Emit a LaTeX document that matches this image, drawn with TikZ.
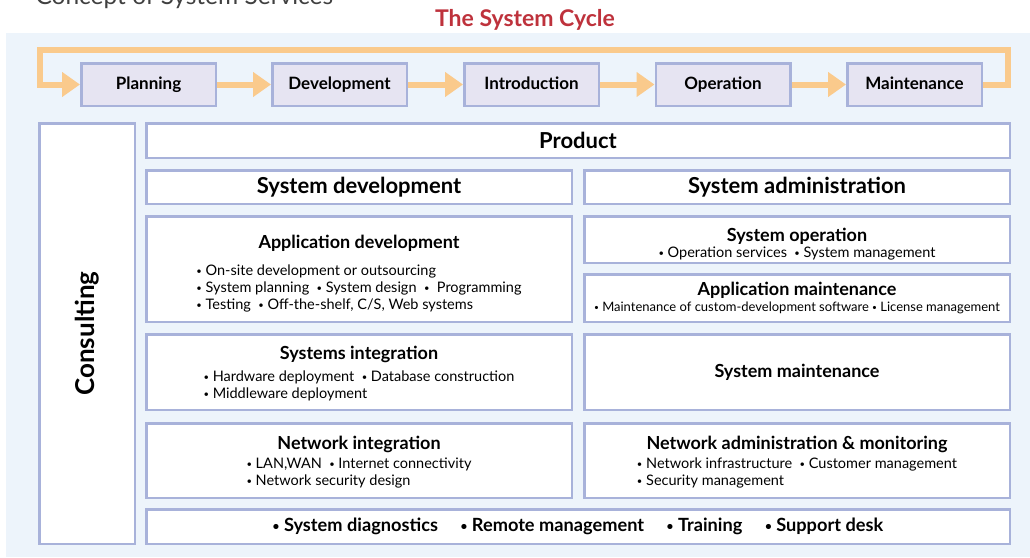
\documentclass[tikz,border=0pt]{standalone}
\usepackage{fontspec}
\setmainfont{Lato}
\usetikzlibrary{arrows.meta}
\definecolor{panelbg}{RGB}{237,244,251}
\definecolor{frame}{RGB}{168,178,218}
\definecolor{cycfill}{RGB}{230,228,242}
\definecolor{cycorange}{RGB}{250,202,140}
\definecolor{titlered}{RGB}{190,50,60}
\newcommand{\bul}{\raisebox{0.15ex}{\scalebox{0.65}{•}}\ }
\newcommand{\fsz}[2]{\fontsize{#1}{#2}\selectfont}
\newcommand{\tstrut}[1]{\rule{0pt}{#1}}

\begin{document}
\begin{tikzpicture}[x=1pt,y=-1pt,
    stage/.style={draw=frame,fill=cycfill,line width=2.5pt,minimum width=134.5pt,minimum height=42.5pt,
        text height=2.3ex,text depth=.3ex,font=\fsz{17}{20}\bfseries},
    cell/.style={draw=frame,fill=white,line width=2.5pt,inner sep=0pt,align=center},
    head/.style={cell,minimum height=33.5pt,font=\fsz{22}{25}\bfseries},
    cyc/.style={draw=cycorange,line width=6pt,-{Triangle[length=18pt,width=24pt]}}]
    \useasboundingbox (0,0) rectangle (1030,557);
    \fill[panelbg] (6,33) rectangle (1030,557);

    % heading
    \node[anchor=base west,text=black!75,font=\fsz{24.5}{28}] (concept) at (32,4) {Concept of System Services};
    \node[text=titlered,font=\fsz{23}{26}\bfseries] (cycle) at (525,20) {The System Cycle};

    % the cycle
    \node[stage] (plan) at (148.5,84.5) {Planning};
    \node[stage] (dev) at (339.5,84.5) {Development};
    \node[stage] (intro) at (531.5,84.5) {Introduction};
    \node[stage] (oper) at (723,84.5) {Operation};
    \node[stage] (maint) at (914.5,84.5) {Maintenance};
    \coordinate (loopR) at (1008,50);
    \coordinate (loopL) at (40,50);
    \draw[cyc] (plan) -- (dev);
    \draw[cyc] (dev) -- (intro);
    \draw[cyc] (intro) -- (oper);
    \draw[cyc] (oper) -- (maint);
    \draw[cyc] (maint.east) -| (loopR) -- (loopL) |- (plan.west);

    % services
    \node[cell,minimum width=95.5pt,minimum height=420.5pt,font=\fsz{26}{30}\bfseries] (consult) at (87,333.5) {\rotatebox{90}{Consulting}};
    \node[head,minimum width=863.5pt,minimum height=34.5pt] (product) at (578,140.5) {Product};
    \node[head,minimum width=425.5pt] (sysdev) at (359,187) {System development};
    \node[head,minimum width=425.5pt] (sysadm) at (797,187) {System administration};

    \node[cell,minimum width=425.5pt,minimum height=105.5pt] (appdev) at (359,269) {%
        {\fsz{18}{21}\bfseries\tstrut{24.5pt}Application development}\\[11pt]
        {\fsz{14.5}{17}\begin{tabular}{@{}l@{}}
        \bul On-site development or outsourcing\\
        \bul System planning \ \bul System design \ \bul \ Programming\\
        \bul Testing \ \bul Off-the-shelf, C/S, Web systems
        \end{tabular}}};
    \node[cell,minimum width=425.5pt,minimum height=75.5pt] (sysint) at (359,372) {%
        {\fsz{18}{21}\bfseries\tstrut{18.5pt}Systems integration}\\[6pt]
        {\fsz{14.5}{17}\begin{tabular}{@{}l@{}}
        \bul Hardware deployment \ \bul Database construction\\
        \bul Middleware deployment
        \end{tabular}}};
    \node[cell,minimum width=425.5pt,minimum height=74.5pt] (netint) at (359,460.5) {%
        {\fsz{18}{21}\bfseries\tstrut{19.5pt}Network integration}\\[3pt]
        {\fsz{14.5}{17}\begin{tabular}{@{}l@{}}
        \bul LAN,WAN \ \bul Internet connectivity\\
        \bul Network security design
        \end{tabular}}};

    \node[cell,minimum width=425.5pt,minimum height=46.5pt] (sysop) at (797,239.5) {%
        {\fsz{18}{19}\bfseries\tstrut{22.5pt}System operation}\\[1pt]
        {\fsz{14.5}{17}\bul Operation services \ \bul System management}};
    \node[cell,minimum width=425.5pt,minimum height=47.5pt] (appmnt) at (797,298) {%
        {\fsz{18}{19}\bfseries Application maintenance}\\[3pt]
        {\fsz{13}{17}\bul Maintenance of custom-development software \bul License management}};
    \node[cell,minimum width=425.5pt,minimum height=75.5pt,font=\fsz{18}{21}\bfseries] (sysmnt) at (797,372) {System maintenance};
    \node[cell,minimum width=425.5pt,minimum height=74.5pt] (netadm) at (797,460.5) {%
        {\fsz{18}{21}\bfseries\tstrut{19.5pt}Network administration \& monitoring}\\[3pt]
        {\fsz{14.5}{17}\begin{tabular}{@{}l@{}}
        \bul Network infrastructure \ \bul Customer management\\
        \bul Security management
        \end{tabular}}};

    \node[cell,minimum width=863.5pt,minimum height=34.5pt,font=\fsz{18.2}{21}\bfseries] (extras) at (578,526.5) {%
        \bul System diagnostics \quad\bul Remote management \quad\bul Training \quad\bul Support desk};
\end{tikzpicture}
\end{document}
